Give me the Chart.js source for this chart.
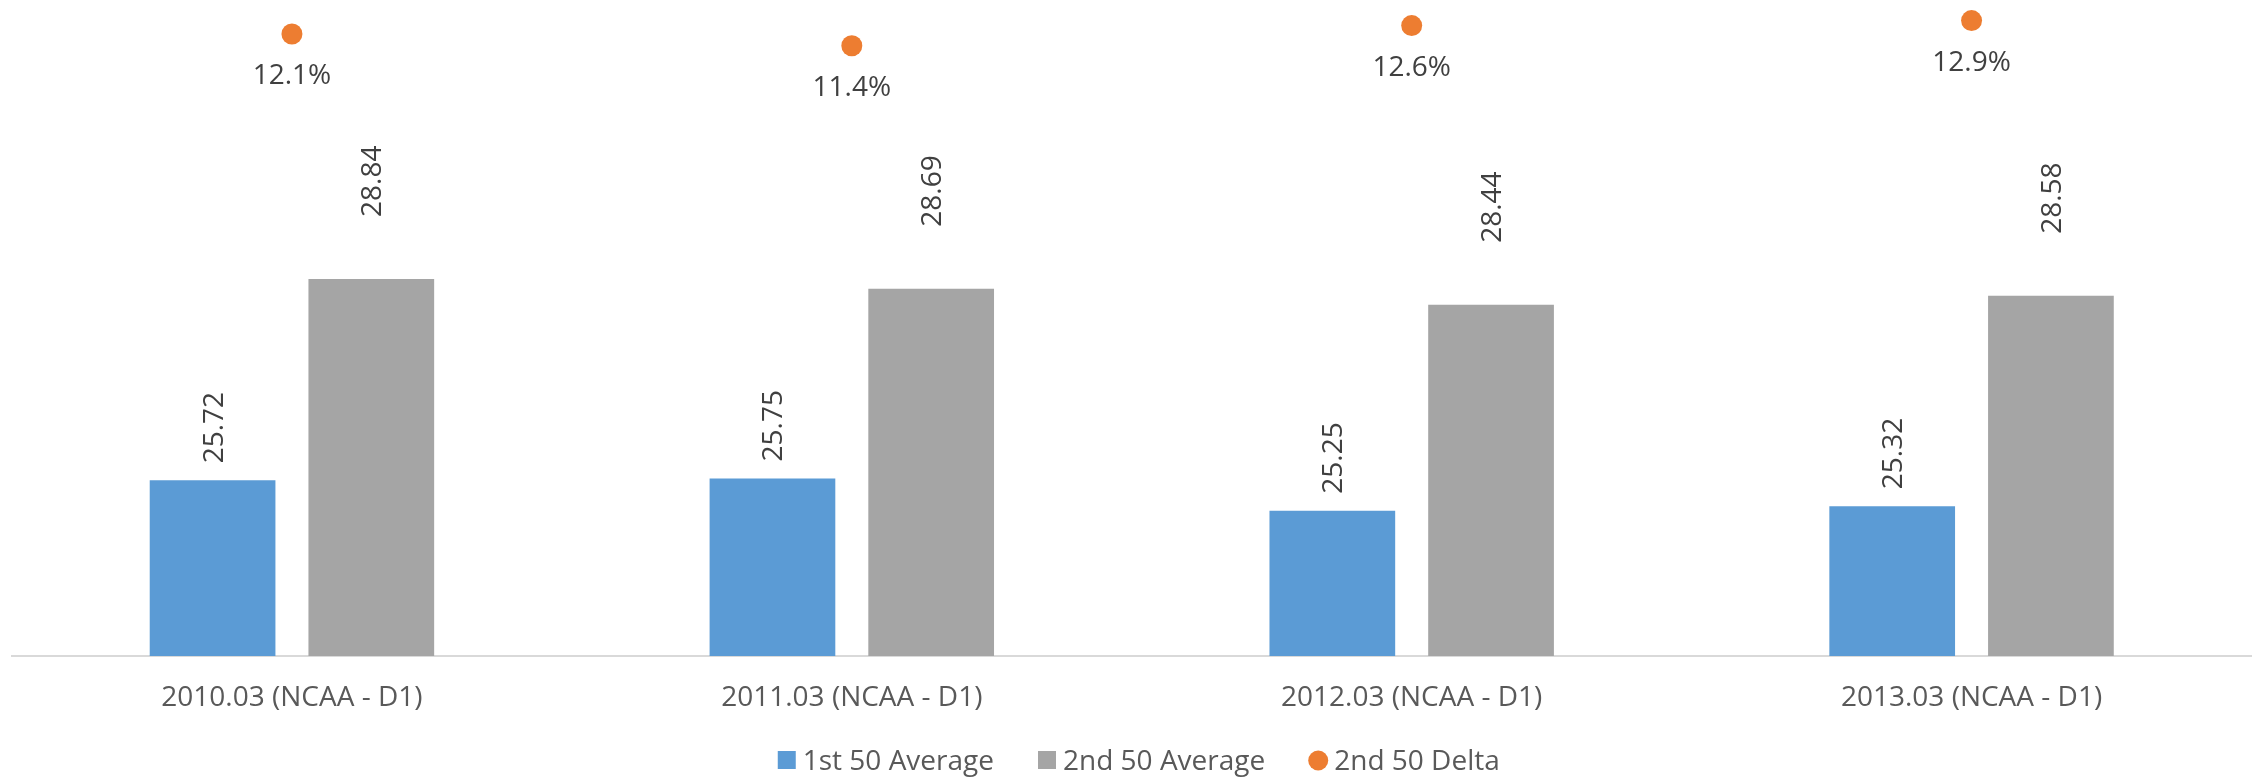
<!DOCTYPE html>
<html>
<head>
<meta charset="utf-8">
<script src="https://cdn.jsdelivr.net/npm/chart.js@4.4.1/dist/chart.umd.min.js"></script>
<style>
  html, body { margin: 0; padding: 0; background: #ffffff; overflow: hidden; }
  canvas { display: block; }
</style>
</head>
<body>
<canvas id="chart" width="2262" height="777"></canvas>
<script>
// Season buckets on the category axis
const categories = [
  '2010.03 (NCAA - D1)',
  '2011.03 (NCAA - D1)',
  '2012.03 (NCAA - D1)',
  '2013.03 (NCAA - D1)'
];
// Average of the first and second group of 50
const first50Average = [25.72, 25.75, 25.25, 25.32];
const second50Average = [28.84, 28.69, 28.44, 28.58];
// Relative gap of the second group, in percent
const second50Delta = [12.1, 11.4, 12.6, 12.9];
const seriesNames = ['1st 50 Average', '2nd 50 Average', '2nd 50 Delta'];

const BLUE = '#5B9BD5';
const GRAY = '#A5A5A5';
const ORANGE = '#ED7D31';
const FONT_FAMILY = "'Open Sans', 'Noto Sans', sans-serif";
const LABEL_COLOR = '#404040';
const AXIS_COLOR = '#595959';

// Value labels: rotated above the bars, centred under the delta points
const BAR_LABEL_GAP = [17, 62];
const valueLabels = {
  id: 'valueLabels',
  afterDatasetsDraw(chart) {
    const ctx = chart.ctx;
    ctx.save();
    ctx.font = '28px ' + FONT_FAMILY;
    ctx.fillStyle = LABEL_COLOR;
    chart.data.datasets.forEach((ds, i) => {
      const meta = chart.getDatasetMeta(i);
      meta.data.forEach((el, j) => {
        const v = ds.data[j];
        if (meta.type === 'line') {
          ctx.textAlign = 'center';
          ctx.textBaseline = 'alphabetic';
          ctx.fillText(v.toFixed(1) + '%', el.x, el.y + 50);
        } else {
          ctx.save();
          ctx.translate(el.x, el.y - BAR_LABEL_GAP[i]);
          ctx.rotate(-Math.PI / 2);
          ctx.textAlign = 'left';
          ctx.textBaseline = 'alphabetic';
          ctx.fillText(v.toFixed(2), 0, 10);
          ctx.restore();
        }
      });
    });
    ctx.restore();
  }
};

// Legend row under the axis labels
const legendRow = {
  id: 'legendRow',
  afterDraw(chart) {
    const ctx = chart.ctx;
    const items = chart.data.datasets.map(ds => ({
      text: ds.label,
      color: ds.type === 'line' ? ds.pointBackgroundColor : ds.backgroundColor,
      round: ds.type === 'line'
    }));
    ctx.save();
    ctx.font = '28px ' + FONT_FAMILY;
    const swatch = 18, textGap = 7, itemGap = 44;
    let total = 0;
    items.forEach((it, i) => {
      it.w = ctx.measureText(it.text).width;
      total += swatch + textGap + it.w + (i ? itemGap : 0);
    });
    const cx = (chart.chartArea.left + chart.chartArea.right) / 2 + 7;
    let x = cx - total / 2;
    const midY = 760, baseY = 769.5;
    items.forEach(it => {
      ctx.fillStyle = it.color;
      if (it.round) {
        ctx.beginPath();
        ctx.arc(x + swatch / 2, midY + 0.5, 10, 0, Math.PI * 2);
        ctx.fill();
      } else {
        ctx.fillRect(x, midY - swatch / 2, swatch, swatch);
      }
      x += swatch + textGap;
      ctx.fillStyle = AXIS_COLOR;
      ctx.textAlign = 'left';
      ctx.textBaseline = 'alphabetic';
      ctx.fillText(it.text, x, baseY);
      x += it.w + itemGap;
    });
    ctx.restore();
  }
};

function draw() {
  Chart.defaults.font.family = FONT_FAMILY;
  Chart.defaults.font.size = 28;
  Chart.defaults.color = AXIS_COLOR;

  new Chart(document.getElementById('chart'), {
    data: {
      labels: categories,
      datasets: [
        {
          type: 'bar',
          label: seriesNames[0],
          data: first50Average,
          backgroundColor: BLUE,
          borderWidth: 0,
          yAxisID: 'y',
          categoryPercentage: 0.567,
          barPercentage: 0.792,
          order: 2
        },
        {
          type: 'bar',
          label: seriesNames[1],
          data: second50Average,
          backgroundColor: GRAY,
          borderWidth: 0,
          yAxisID: 'y',
          categoryPercentage: 0.567,
          barPercentage: 0.792,
          order: 2
        },
        {
          type: 'line',
          label: seriesNames[2],
          data: second50Delta,
          showLine: false,
          pointRadius: 10.5,
          pointBorderWidth: 0,
          pointBackgroundColor: ORANGE,
          pointBorderColor: ORANGE,
          borderColor: ORANGE,
          backgroundColor: ORANGE,
          yAxisID: 'y2',
          clip: false,
          order: 1
        }
      ]
    },
    options: {
      responsive: false,
      animation: false,
      events: [],
      layout: { padding: { top: 4, left: 12, right: 5, bottom: 37.5 } },
      plugins: {
        legend: { display: false },
        tooltip: { enabled: false },
        title: { display: false }
      },
      scales: {
        x: {
          type: 'category',
          offset: true,
          grid: { display: false, drawTicks: false },
          border: { display: true, color: '#D9D9D9', width: 2 },
          ticks: {
            padding: 25,
            color: AXIS_COLOR,
            font: { size: 28 },
            maxRotation: 0,
            autoSkip: false
          }
        },
        y: {
          type: 'linear',
          display: false,
          min: 23,
          max: 33
        },
        y2: {
          type: 'linear',
          display: false,
          position: 'right',
          min: -25,
          max: 13.5
        }
      }
    },
    plugins: [valueLabels, legendRow]
  });
}

if (document.fonts && document.fonts.load) {
  document.fonts.load('28px "Open Sans"').then(draw, draw);
} else {
  draw();
}
</script>
</body>
</html>
